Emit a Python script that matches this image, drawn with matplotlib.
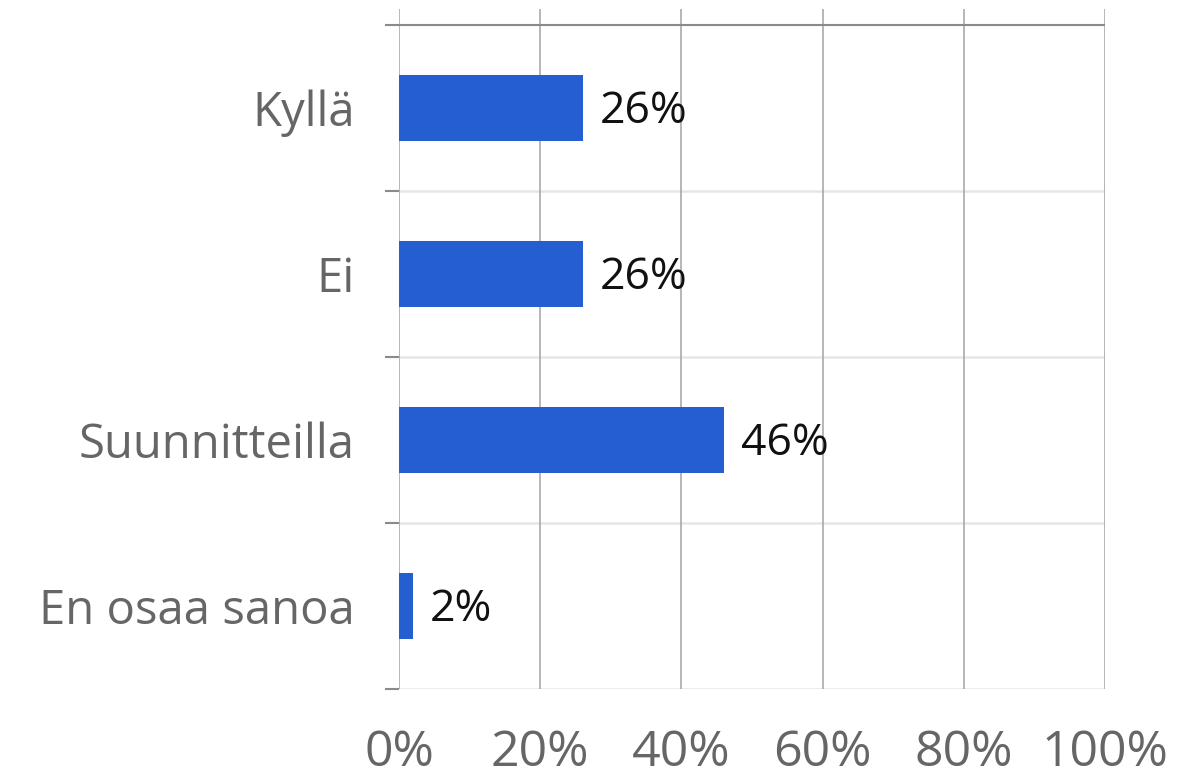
import matplotlib.pyplot as plt

categories = ["Kyllä", "Ei", "Suunnitteilla", "En osaa sanoa"]
values = [26, 26, 46, 2]
x_ticks = [0, 20, 40, 60, 80, 100]
x_tick_labels = ["0%", "20%", "40%", "60%", "80%", "100%"]

plt.rcParams["font.family"] = ["Open Sans", "DejaVu Sans"]

W, H = 1177, 778
fig = plt.figure(figsize=(W / 100, H / 100), dpi=100)
ax = fig.add_axes([399 / W, 1 - 689 / H, (1105 - 399) / W, (689 - 9) / H])

y = list(range(len(categories)))
ax.barh(y, values, height=0.4, color="#255ed1", zorder=3)

for yi, v in zip(y, values):
    ax.annotate(f"{v}%", (v, yi), xytext=(17 * 0.72, -3), textcoords="offset points",
                ha="left", va="center", fontsize=32, color="#111111", zorder=4)

ax.set_xlim(0, 100)
top = -0.5 - 16 / 166
ax.set_ylim(len(categories) - 0.5, top)

# vertical gridlines
for t in x_ticks:
    ax.axvline(t, color="#a3a3a3", linewidth=1.1, zorder=1)

# horizontal boundaries
bounds = [i - 0.5 for i in range(len(categories) + 1)]
for i, b in enumerate(bounds):
    if i == 0:
        ax.axhline(b, color="#8a8a8a", linewidth=1.5, zorder=2)
    else:
        ax.axhline(b, color="#e6e6e6", linewidth=1.8, zorder=0)

for s in ax.spines.values():
    s.set_visible(False)

ax.set_yticks(y)
ax.set_yticklabels(categories, fontsize=34, color="#666666")
ax.tick_params(axis="y", which="major", length=0, pad=44 * 0.72)
ax.set_yticks(bounds, minor=True)
ax.tick_params(axis="y", which="minor", length=10, width=1.5, color="#8a8a8a")

ax.set_xticks(x_ticks)
ax.set_xticklabels(x_tick_labels, fontsize=36, color="#666666")
ax.tick_params(axis="x", length=0, pad=40 * 0.72)

fig.savefig("out.png", dpi=100, facecolor="white")
